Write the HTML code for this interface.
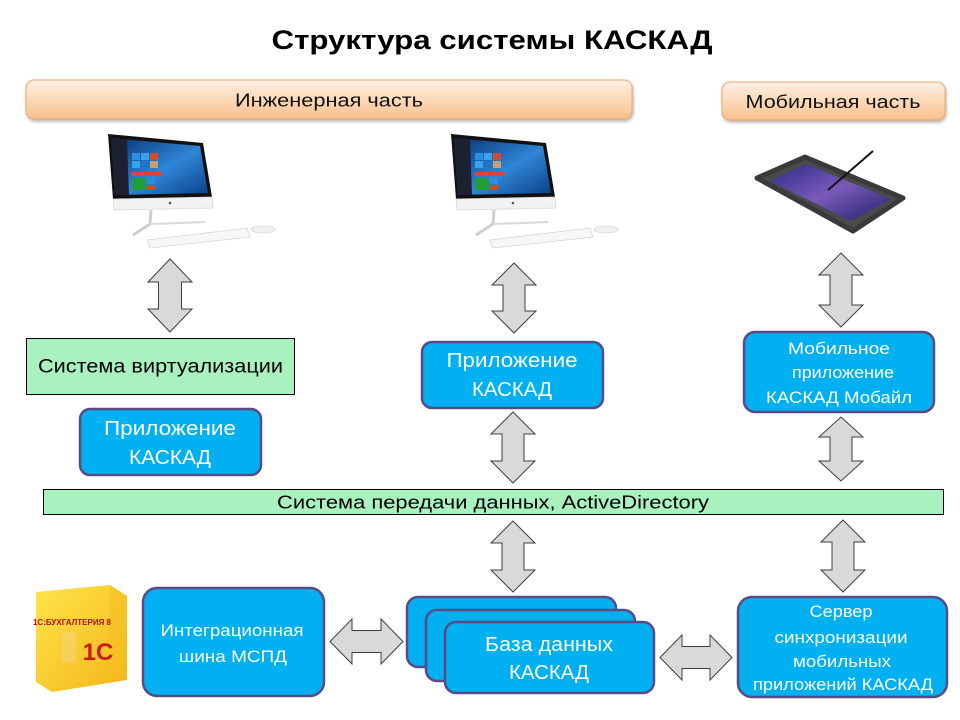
<!DOCTYPE html>
<html><head><meta charset="utf-8"><style>
html,body{margin:0;padding:0;background:#fff;}
svg{display:block;}
text{font-family:"Liberation Sans","Noto Sans CJK SC",sans-serif;}
</style></head><body>
<svg width="960" height="720" viewBox="0 0 960 720" xmlns="http://www.w3.org/2000/svg">
<defs>
<linearGradient id="og" x1="0" y1="0" x2="0" y2="1">
<stop offset="0" stop-color="#fef0e4"/><stop offset="0.5" stop-color="#fcd9b8"/><stop offset="1" stop-color="#f9bf8c"/>
</linearGradient>
<linearGradient id="scr" x1="0" y1="0" x2="1" y2="1">
<stop offset="0" stop-color="#06306e"/><stop offset="0.55" stop-color="#2f86d6"/><stop offset="1" stop-color="#0b3f86"/>
</linearGradient>
<linearGradient id="tab" x1="0" y1="0" x2="1" y2="1">
<stop offset="0" stop-color="#2a2a8a"/><stop offset="0.5" stop-color="#7a5ab8"/><stop offset="1" stop-color="#1d1f6a"/>
</linearGradient>
<linearGradient id="yb" x1="0" y1="0" x2="1" y2="1">
<stop offset="0" stop-color="#ffe54a"/><stop offset="1" stop-color="#f3b51a"/>
</linearGradient>
<filter id="sh" x="-5%" y="-20%" width="110%" height="150%"><feDropShadow dx="1" dy="2" stdDeviation="1.5" flood-color="#000" flood-opacity="0.3"/></filter>
<g id="pc">
<polygon points="108,134 203,143 212,197 113,199" fill="#111"/>
<polygon points="111,138 200,146 208,193 115,195" fill="url(#scr)"/>
<polygon points="111,138 127,139.5 129,195 115,195" fill="#1c2030"/>
<rect x="132" y="153" width="8" height="7" fill="#2b8ee0"/><rect x="141" y="153" width="8" height="7" fill="#3aa0f0"/><rect x="150" y="153" width="8" height="7" fill="#d24b2c"/>
<rect x="132" y="161" width="8" height="7" fill="#3aa0f0"/><rect x="141" y="161" width="8" height="7" fill="#1f75c8"/><rect x="150" y="161" width="8" height="7" fill="#c8a070"/>
<rect x="132" y="172" width="30" height="4" fill="#e04040"/>
<rect x="132" y="178" width="14" height="12" fill="#1f9e3a"/><rect x="147" y="178" width="8" height="6" fill="#2b8ee0"/><rect x="147" y="185" width="8" height="5" fill="#c05020"/>
<polygon points="113,199 212,197 213,208 114,210" fill="#f2f2f2" stroke="#d8d8d8" stroke-width="0.8"/>
<circle cx="170" cy="203" r="1.3" fill="#555"/>
<polyline points="151,210 150,224 133,235" fill="none" stroke="#cfcfcf" stroke-width="3"/>
<line x1="150" y1="224" x2="205" y2="222" stroke="#d8d8d8" stroke-width="2"/>
<polygon points="147,240 247,228 250,237 150,248" fill="#f7f7f7" stroke="#d5d5d5" stroke-width="0.8"/>
<ellipse cx="263" cy="229.5" rx="12" ry="3.5" fill="#f0f0f0" stroke="#d8d8d8" stroke-width="0.8"/>
</g>
</defs>

<!-- Title -->
<text x="492" y="49" font-size="27" font-weight="bold" text-anchor="middle" textLength="441" lengthAdjust="spacingAndGlyphs" fill="#000">Структура системы КАСКАД</text>

<!-- orange bars -->
<rect x="26" y="80" width="606" height="39" rx="8" fill="url(#og)" stroke="#f0a868" stroke-width="1" filter="url(#sh)"/>
<text x="329" y="106.5" font-size="18" text-anchor="middle" textLength="188" lengthAdjust="spacingAndGlyphs" fill="#111">Инженерная часть</text>
<rect x="722" y="82" width="223" height="38" rx="8" fill="url(#og)" stroke="#f0a868" stroke-width="1" filter="url(#sh)"/>
<text x="833" y="108" font-size="18" text-anchor="middle" textLength="175" lengthAdjust="spacingAndGlyphs" fill="#111">Мобильная часть</text>

<!-- computers -->
<use href="#pc"/>
<use href="#pc" transform="translate(343,0)"/>

<!-- tablet -->
<polygon points="757,178 805,157 903,198 853,231" fill="#4a4a4a" stroke="#3a3a3a" stroke-width="5" stroke-linejoin="round"/>
<polygon points="770,181 806,164 891,199 851,221" fill="url(#tab)"/>
<line x1="828" y1="190" x2="873" y2="151" stroke="#111" stroke-width="2"/>

<!-- arrows -->
<g fill="#d9d9d9" stroke="#404040" stroke-width="1">
<polygon points="170,259 192,282 181.5,282 181.5,309 192,309 170,332 148,309 158.5,309 158.5,282 148,282"/>
<polygon points="514,263 536,285 525,285 525,311 536,311 514,333 492,311 503,311 503,285 492,285"/>
<polygon points="513,412 535,434 524,434 524,461 535,461 513,483 491,461 502,461 502,434 491,434"/>
<polygon points="513,521 535,543 524,543 524,570 535,570 513,592 491,570 502,570 502,543 491,543"/>
<polygon points="841,253 863,275 852,275 852,305 863,305 841,327 819,305 830,305 830,275 819,275"/>
<polygon points="841,417 863,437 852,437 852,461 863,461 841,481 819,461 830,461 830,437 819,437"/>
<polygon points="843,520 865,542 854,542 854,570 865,570 843,592 821,570 832,570 832,542 821,542"/>
<polygon points="330,641.5 352,619 352,630.5 381,630.5 381,619 403,641.5 381,664 381,652.5 352,652.5 352,664"/>
<polygon points="660,657.5 682,635 682,646.5 710,646.5 710,635 732,657.5 710,680 710,668.5 682,668.5 682,680"/>
</g>

<!-- green boxes -->
<rect x="26.5" y="338.5" width="268" height="56" fill="#a9f1bf" stroke="#000" stroke-width="1"/>
<text x="160.5" y="372.5" font-size="19" text-anchor="middle" textLength="245" lengthAdjust="spacingAndGlyphs" fill="#000">Система виртуализации</text>
<rect x="43.5" y="489.5" width="900" height="25" fill="#a9f1bf" stroke="#000" stroke-width="1"/>
<text x="493" y="508.5" font-size="18" text-anchor="middle" textLength="432" lengthAdjust="spacingAndGlyphs" fill="#000">Система передачи данных, ActiveDirectory</text>

<!-- blue boxes -->
<g fill="#00b0f0" stroke="#5a4a86" stroke-width="2.5">
<rect x="80" y="409" width="181" height="66" rx="10"/>
<rect x="422" y="342" width="181" height="66" rx="10"/>
<rect x="744" y="332" width="190" height="80" rx="11"/>
<rect x="143" y="588" width="181" height="108" rx="14"/>
<rect x="407" y="597" width="209" height="70" rx="11"/>
<rect x="426" y="610" width="209" height="71" rx="11"/>
<rect x="445" y="622" width="209" height="71" rx="11"/>
<rect x="738" y="597" width="209" height="100" rx="14"/>
</g>
<g fill="#fff" font-size="20" text-anchor="middle">
<text x="170" y="435" textLength="132" lengthAdjust="spacingAndGlyphs">Приложение</text>
<text x="170" y="464" textLength="82" lengthAdjust="spacingAndGlyphs">КАСКАД</text>
<text x="512" y="367" textLength="131" lengthAdjust="spacingAndGlyphs">Приложение</text>
<text x="512" y="396" textLength="80" lengthAdjust="spacingAndGlyphs">КАСКАД</text>
<text x="549" y="651" textLength="128" lengthAdjust="spacingAndGlyphs">База данных</text>
<text x="549" y="679" textLength="80" lengthAdjust="spacingAndGlyphs">КАСКАД</text>
</g>
<g fill="#fff" font-size="17" text-anchor="middle">
<text x="839" y="354" textLength="102" lengthAdjust="spacingAndGlyphs">Мобильное</text>
<text x="843" y="378" textLength="102" lengthAdjust="spacingAndGlyphs">приложение</text>
<text x="839" y="403" textLength="146" lengthAdjust="spacingAndGlyphs">КАСКАД Мобайл</text>
<text x="232" y="636" textLength="143" lengthAdjust="spacingAndGlyphs">Интеграционная</text>
<text x="233" y="662" textLength="108" lengthAdjust="spacingAndGlyphs">шина МСПД</text>
<text x="841" y="617" textLength="63" lengthAdjust="spacingAndGlyphs">Сервер</text>
<text x="841" y="643" textLength="133" lengthAdjust="spacingAndGlyphs">синхронизации</text>
<text x="842" y="667" textLength="98" lengthAdjust="spacingAndGlyphs">мобильных</text>
<text x="843" y="690" textLength="180" lengthAdjust="spacingAndGlyphs">приложений КАСКАД</text>
</g>

<!-- 1C box -->
<polygon points="36,592 110,585 127,596 127,680 52,692 36,682" fill="url(#yb)"/>
<polygon points="110,585 127,596 127,680 110,670" fill="#f5c020" opacity="0.6"/>
<text x="72" y="625" font-size="8" font-weight="bold" fill="#b01010" text-anchor="middle">1С:БУХГАЛТЕРИЯ 8</text>
<text x="98" y="660" font-size="24" font-weight="bold" fill="#d01a1a" text-anchor="middle">1С</text>
<rect x="62" y="632" width="14" height="30" fill="#f7d070" opacity="0.7"/>
</svg>
</body></html>
